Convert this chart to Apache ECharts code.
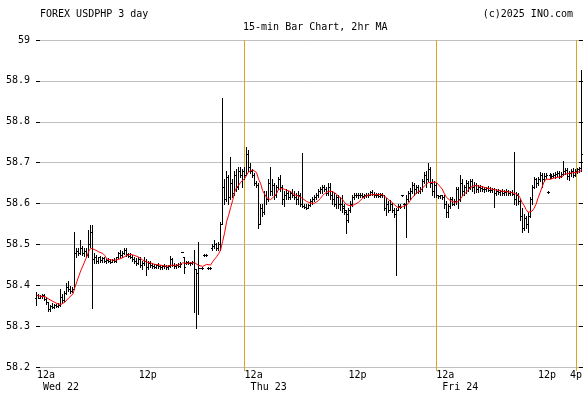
<!DOCTYPE html>
<html>
<head>
<meta charset="utf-8">
<script src="https://cdn.jsdelivr.net/npm/echarts@6/dist/echarts.min.js"></script>
<style>
  html, body { margin: 0; padding: 0; background: #fff; }
  #chart { width: 585px; height: 394px; }
</style>
</head>
<body>
<div id="chart"></div>
<script>
// 15-min bars, [open, high, low, close]
var wedBars = [
  [58.37,58.383,58.352,58.375],[58.375,58.378,58.368,58.37],[58.37,58.376,58.368,58.374],[58.374,58.378,58.37,58.376],
  [58.376,58.378,58.365,58.366],[58.366,58.372,58.355,58.358],[58.358,58.36,58.337,58.342],[58.342,58.352,58.338,58.35],
  [58.35,58.356,58.344,58.348],[58.348,58.355,58.345,58.352],[58.352,58.354,58.346,58.35],[58.35,58.356,58.347,58.352],
  [58.352,58.39,58.35,58.372],[58.372,58.378,58.36,58.365],[58.365,58.385,58.362,58.38],[58.38,58.405,58.378,58.395],
  [58.395,58.41,58.385,58.39],[58.39,58.398,58.382,58.386],[58.386,58.395,58.384,58.39],[58.39,58.53,58.39,58.48],
  [58.48,58.49,58.47,58.485],[58.485,58.49,58.474,58.478],[58.478,58.51,58.476,58.49],[58.49,58.495,58.475,58.48],
  [58.48,58.49,58.472,58.485],[58.485,58.49,58.47,58.475],[58.475,58.535,58.47,58.5],[58.5,58.547,58.494,58.53],
  [58.53,58.547,58.344,58.465],[58.465,58.48,58.455,58.47],[58.47,58.475,58.455,58.46],[58.46,58.47,58.455,58.468],
  [58.468,58.472,58.458,58.462],[58.462,58.47,58.456,58.466],[58.466,58.47,58.458,58.46],[58.46,58.466,58.455,58.462],
  [58.462,58.466,58.456,58.46],[58.46,58.464,58.455,58.458],[58.458,58.465,58.456,58.462],[58.462,58.466,58.458,58.46],
  [58.46,58.47,58.458,58.468],[58.468,58.482,58.466,58.478],[58.478,58.486,58.47,58.474],[58.474,58.484,58.47,58.48],
  [58.48,58.492,58.476,58.486],[58.486,58.49,58.472,58.476],[58.476,58.48,58.468,58.472],[58.472,58.478,58.466,58.47],
  [58.47,58.474,58.46,58.464],[58.464,58.47,58.455,58.46],[58.46,58.466,58.45,58.455],[58.455,58.468,58.452,58.465],
  [58.465,58.47,58.445,58.45],[58.45,58.46,58.44,58.455],[58.455,58.47,58.45,58.46],[58.46,58.465,58.425,58.445],
  [58.445,58.46,58.44,58.455],[58.455,58.46,58.445,58.45],[58.45,58.455,58.442,58.448],[58.448,58.452,58.442,58.445],
  [58.445,58.452,58.442,58.45],[58.45,58.454,58.442,58.446],[58.446,58.45,58.44,58.444],[58.444,58.45,58.44,58.448],
  [58.448,58.452,58.442,58.446],[58.446,58.45,58.44,58.444],[58.444,58.45,58.44,58.448],[58.448,58.472,58.445,58.465],
  [58.465,58.466,58.448,58.45],[58.45,58.455,58.443,58.446],[58.446,58.452,58.443,58.45],[58.45,58.455,58.444,58.447],
  [58.447,58.456,58.445,58.452],[58.481,58.481,58.481,58.481],[58.47,58.47,58.43,58.445],[58.455,58.46,58.452,58.456],
  [58.456,58.46,58.452,58.455],[58.455,58.458,58.45,58.455],[58.455,58.46,58.452,58.456],[58.456,58.486,58.335,58.44],
  [58.44,58.44,58.295,58.43],[58.43,58.505,58.33,58.45],[58.442,58.442,58.442,58.442],[58.442,58.444,58.44,58.442],
  [58.474,58.476,58.472,58.474],[58.474,58.476,58.472,58.474],[58.442,58.444,58.44,58.442],[58.442,58.445,58.44,58.442],
  [58.49,58.5,58.486,58.495],[58.495,58.51,58.49,58.5],[58.5,58.503,58.486,58.49],[58.49,58.505,58.486,58.5],
  [58.5,58.555,58.486,58.55],[58.55,58.858,58.55,58.64],[58.64,58.66,58.6,58.61],[58.61,58.68,58.605,58.665],
  [58.665,58.67,58.6,58.615],[58.615,58.714,58.61,58.65],[58.65,58.66,58.615,58.625],[58.625,58.68,58.62,58.67],
  [58.67,58.685,58.63,58.64],[58.64,58.69,58.635,58.68],[58.68,58.69,58.665,58.67],[58.67,58.685,58.64,58.68]
];
var thuBars = [
  [58.68,58.69,58.66,58.67],[58.67,58.738,58.67,58.72],[58.72,58.73,58.68,58.69],[58.69,58.7,58.675,58.68],
  [58.68,58.685,58.665,58.67],[58.67,58.675,58.645,58.65],[58.65,58.655,58.64,58.645],[58.645,58.65,58.54,58.55],
  [58.55,58.6,58.55,58.59],[58.59,58.6,58.57,58.58],[58.58,58.63,58.575,58.62],[58.62,58.63,58.6,58.61],
  [58.61,58.66,58.605,58.65],[58.65,58.69,58.62,58.63],[58.63,58.66,58.62,58.645],[58.645,58.65,58.61,58.62],
  [58.62,58.645,58.615,58.64],[58.64,58.665,58.635,58.66],[58.66,58.67,58.63,58.64],[58.64,58.645,58.6,58.61],
  [58.61,58.63,58.595,58.62],[58.62,58.635,58.61,58.625],[58.625,58.63,58.61,58.615],[58.615,58.63,58.61,58.625],
  [58.625,58.635,58.615,58.62],[58.62,58.63,58.61,58.615],[58.615,58.625,58.6,58.61],[58.61,58.63,58.6,58.62],
  [58.62,58.625,58.595,58.6],[58.6,58.723,58.592,58.595],[58.595,58.6,58.588,58.592],[58.592,58.598,58.586,58.59],
  [58.59,58.6,58.588,58.596],[58.596,58.61,58.594,58.605],[58.605,58.615,58.6,58.61],[58.61,58.62,58.605,58.615],
  [58.615,58.625,58.61,58.62],[58.62,58.635,58.615,58.63],[58.63,58.64,58.625,58.635],[58.635,58.645,58.625,58.64],
  [58.64,58.645,58.63,58.635],[58.635,58.64,58.62,58.625],[58.625,58.65,58.62,58.64],[58.64,58.65,58.61,58.62],
  [58.62,58.63,58.6,58.61],[58.61,58.625,58.595,58.6],[58.6,58.62,58.59,58.615],[58.615,58.62,58.59,58.6],
  [58.6,58.615,58.585,58.6],[58.6,58.62,58.58,58.595],[58.59,58.6,58.575,58.585],[58.58,58.585,58.528,58.575],
  [58.56,58.59,58.555,58.585],[58.585,58.605,58.58,58.6],[58.6,58.62,58.595,58.615],[58.615,58.625,58.61,58.62],
  [58.62,58.625,58.615,58.62],[58.62,58.626,58.614,58.622],[58.622,58.626,58.616,58.62],[58.62,58.625,58.615,58.618],
  [58.618,58.624,58.614,58.62],[58.62,58.625,58.615,58.62],[58.62,58.626,58.616,58.622],[58.622,58.63,58.62,58.628],
  [58.628,58.632,58.62,58.624],[58.624,58.628,58.616,58.62],[58.62,58.626,58.615,58.622],[58.622,58.626,58.616,58.618],
  [58.618,58.625,58.615,58.622],[58.622,58.626,58.616,58.62],[58.62,58.62,58.585,58.59],[58.59,58.613,58.572,58.6],
  [58.6,58.605,58.58,58.585],[58.585,58.609,58.584,58.6],[58.6,58.602,58.58,58.585],[58.585,58.589,58.567,58.575],
  [58.575,58.589,58.425,58.585],[58.585,58.6,58.584,58.595],[58.595,58.6,58.589,58.592],[58.62,58.622,58.618,58.62],
  [58.598,58.602,58.59,58.6],[58.6,58.62,58.518,58.61],[58.61,58.63,58.605,58.625],[58.625,58.638,58.61,58.63],
  [58.63,58.653,58.625,58.645],[58.645,58.65,58.62,58.635],[58.635,58.645,58.626,58.64],[58.64,58.645,58.626,58.63],
  [58.63,58.64,58.626,58.635],[58.635,58.66,58.63,58.655],[58.655,58.677,58.65,58.67],[58.67,58.68,58.64,58.66],
  [58.66,58.7,58.655,58.685],[58.685,58.69,58.64,58.65],[58.65,58.66,58.62,58.63],[58.63,58.655,58.616,58.645]
];
var friBars = [
  [58.645,58.65,58.615,58.62],[58.62,58.622,58.613,58.618],[58.618,58.622,58.613,58.62],[58.62,58.622,58.612,58.615],
  [58.615,58.62,58.59,58.6],[58.6,58.605,58.567,58.58],[58.58,58.6,58.568,58.595],[58.595,58.615,58.59,58.61],
  [58.61,58.616,58.596,58.6],[58.6,58.612,58.596,58.605],[58.605,58.64,58.6,58.635],[58.635,58.64,58.59,58.61],
  [58.61,58.67,58.605,58.65],[58.65,58.66,58.62,58.63],[58.63,58.645,58.622,58.64],[58.64,58.657,58.625,58.65],
  [58.65,58.655,58.63,58.64],[58.64,58.66,58.635,58.655],[58.655,58.66,58.63,58.64],[58.64,58.653,58.626,58.645],
  [58.645,58.65,58.628,58.635],[58.635,58.645,58.628,58.64],[58.64,58.645,58.63,58.638],[58.638,58.642,58.63,58.635],
  [58.635,58.64,58.628,58.636],[58.636,58.64,58.63,58.638],[58.638,58.642,58.63,58.634],[58.634,58.64,58.628,58.632],
  [58.632,58.638,58.628,58.635],[58.635,58.638,58.591,58.625],[58.625,58.635,58.622,58.63],[58.63,58.636,58.624,58.628],
  [58.628,58.634,58.622,58.63],[58.63,58.636,58.622,58.626],[58.626,58.632,58.621,58.628],[58.628,58.635,58.622,58.63],
  [58.63,58.632,58.621,58.625],[58.625,58.63,58.62,58.627],[58.627,58.632,58.62,58.624],[58.624,58.726,58.6,58.61],
  [58.61,58.628,58.596,58.62],[58.62,58.625,58.6,58.605],[58.605,58.61,58.56,58.57],[58.57,58.589,58.53,58.54],
  [58.54,58.575,58.535,58.565],[58.565,58.57,58.54,58.55],[58.55,58.58,58.53,58.57],[58.57,58.616,58.567,58.61],
  [58.61,58.645,58.6,58.64],[58.64,58.665,58.638,58.66],[58.66,58.662,58.64,58.65],[58.65,58.665,58.645,58.66],
  [58.66,58.677,58.655,58.67],[58.67,58.675,58.64,58.66],[58.66,58.675,58.655,58.668],[58.668,58.674,58.662,58.67],
  [58.628,58.63,58.626,58.628],[58.67,58.675,58.662,58.665],[58.665,58.672,58.662,58.668],[58.668,58.675,58.664,58.67],
  [58.67,58.676,58.662,58.672],[58.672,58.68,58.668,58.675],[58.675,58.68,58.662,58.668],[58.668,58.676,58.664,58.672],
  [58.672,58.704,58.67,58.68],[58.68,58.687,58.672,58.682],[58.682,58.686,58.66,58.668],[58.668,58.68,58.657,58.675],
  [58.675,58.685,58.668,58.68],[58.68,58.686,58.664,58.67],[58.67,58.684,58.668,58.68],[58.68,58.688,58.675,58.684],
  [58.684,58.69,58.676,58.686],[58.686,58.927,58.68,58.72]
];
// bar index -> axis label
var tickLabels = [
  [0, '12a\n Wed 22'],
  [51, '12p'],
  [104, '12a\n Thu 23'],
  [156, '12p'],
  [200, '12a\n Fri 24'],
  [251, '12p'],
  [267, '4p']
];
// bar index of day separators (orange lines)
var dayBreaks = [104, 200, 270];
var maPeriod = 8; // 2hr of 15-min bars

var bars = wedBars.concat(thuBars, friBars);
var categories = bars.map(function (b, i) { return String(i); });
var ohlc = bars.map(function (b, i) { return [i, b[0], b[1], b[2], b[3]]; });

// moving average of closes
var ma = bars.map(function (b, i) {
  var from = Math.max(0, i - maPeriod + 1), sum = 0;
  for (var k = from; k <= i; k++) sum += bars[k][3];
  return +(sum / (i - from + 1)).toFixed(4);
});

var labelMap = {};
tickLabels.forEach(function (t) { labelMap[t[0]] = t[1]; });

var FONT = 'DejaVu Sans Mono';
var ORANGE = '#DAA520';

function renderBar(params, api) {
  var i = api.value(0);
  var po = api.coord([i, api.value(1)]);
  var ph = api.coord([i, api.value(2)]);
  var pl = api.coord([i, api.value(3)]);
  var pc = api.coord([i, api.value(4)]);
  var c = Math.floor(po[0]);
  var x = c + 0.5;
  var yH = Math.round(Math.min(ph[1], pl[1]));
  var yL = Math.round(Math.max(ph[1], pl[1])) + 1;
  var yo = Math.round(po[1]) + 0.5;
  var yc = Math.round(pc[1]) + 0.5;
  var st = { stroke: '#000', lineWidth: 1 };
  return {
    type: 'group',
    children: [
      { type: 'line', shape: { x1: x, y1: yH, x2: x, y2: yL }, style: st },
      { type: 'line', shape: { x1: c - 1, y1: yo, x2: c, y2: yo }, style: st },
      { type: 'line', shape: { x1: c + 1, y1: yc, x2: c + 2, y2: yc }, style: st }
    ]
  };
}

var myChart = echarts.init(document.getElementById('chart'), null, { renderer: 'canvas' });
myChart.setOption({
  backgroundColor: '#fff',
  animation: false,
  textStyle: { fontFamily: FONT },
  title: [
    { text: 'FOREX USDPHP 3 day', left: 35, top: 4,
      textStyle: { fontSize: 10, fontWeight: 'normal', color: '#000', fontFamily: FONT } },
    { text: '15-min Bar Chart, 2hr MA', left: 238, top: 17,
      textStyle: { fontSize: 10, fontWeight: 'normal', color: '#000', fontFamily: FONT } },
    { text: '(c)2025 INO.com', right: 7, top: 4,
      textStyle: { fontSize: 10, fontWeight: 'normal', color: '#000', fontFamily: FONT } }
  ],
  grid: { left: 36, right: 0, top: 40, bottom: 27 },
  xAxis: {
    type: 'category',
    data: categories,
    boundaryGap: true,
    axisLine: { show: false },
    axisTick: {
      show: true,
      alignWithLabel: true,
      length: 4,
      interval: function (index) { return dayBreaks.indexOf(index) >= 0; },
      lineStyle: { color: ORANGE }
    },
    axisLabel: {
      interval: function (index) { return labelMap[index] !== undefined; },
      formatter: function (value, index) { return labelMap[index] || ''; },
      align: 'left',
      verticalAlign: 'top',
      lineHeight: 12,
      margin: 2,
      fontSize: 10,
      color: '#000',
      fontFamily: FONT
    },
    splitLine: { show: false }
  },
  yAxis: [
    {
      type: 'value',
      min: 58.2,
      max: 59,
      interval: 0.1,
      position: 'left',
      axisLine: { show: false },
      axisTick: { show: true, inside: true, length: 4, lineStyle: { color: '#000' } },
      axisLabel: { margin: 6, fontSize: 10, color: '#000', fontFamily: FONT },
      splitLine: { show: true, lineStyle: { color: '#c0c0c0', width: 1 } }
    },
    {
      type: 'value',
      min: 58.2,
      max: 59,
      interval: 0.1,
      position: 'right',
      axisLine: { show: false },
      axisTick: { show: true, inside: true, length: 4, lineStyle: { color: '#000' } },
      axisLabel: { show: false },
      splitLine: { show: false }
    }
  ],
  series: [
    {
      type: 'custom',
      name: 'USDPHP',
      renderItem: renderBar,
      data: ohlc,
      encode: { x: 0, y: [1, 2, 3, 4] },
      silent: true,
      z: 3
    },
    {
      type: 'line',
      name: '2hr MA',
      data: ma,
      showSymbol: false,
      symbol: 'none',
      silent: true,
      lineStyle: { color: '#ff0000', width: 1 },
      z: 4,
      markLine: {
        silent: true,
        symbol: 'none',
        label: { show: false },
        lineStyle: { color: ORANGE, type: 'solid', width: 1 },
        data: dayBreaks.map(function (i) { return { xAxis: i }; }),
        z: 2
      }
    }
  ]
});
</script>
</body>
</html>
